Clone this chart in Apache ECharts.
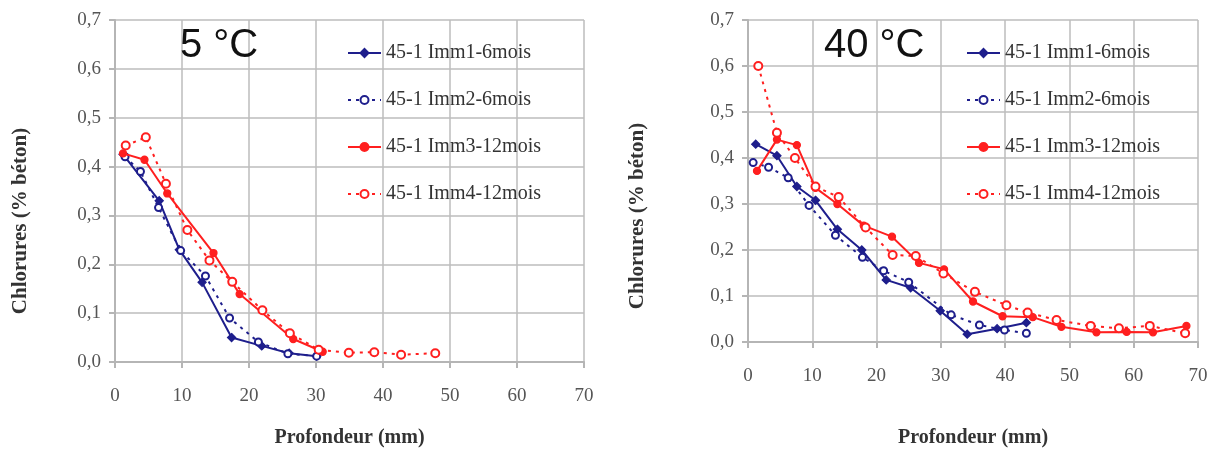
<!DOCTYPE html>
<html>
<head>
<meta charset="utf-8">
<script src="https://cdn.jsdelivr.net/npm/echarts@6/dist/echarts.min.js"></script>
<style>
html,body{margin:0;padding:0;background:#fff;}
#c{width:1212px;height:453px;}
</style>
</head>
<body>
<div id="c"></div>
<script>
// ---- Data ----
const seriesNames = ['45-1 Imm1-6mois', '45-1 Imm2-6mois', '45-1 Imm3-12mois', '45-1 Imm4-12mois'];
const titles = ['5 °C', '40 °C'];
const xTicks = [0, 10, 20, 30, 40, 50, 60, 70];
const yTicks = [0, 0.1, 0.2, 0.3, 0.4, 0.5, 0.6, 0.7];

// 5 °C
const c5_imm1_x = [1.2, 6.6, 9.6, 13.0, 17.4, 21.9, 26.0, 30.1];
const c5_imm1_y = [0.425, 0.33, 0.23, 0.163, 0.05, 0.033, 0.018, 0.012];
const c5_imm2_x = [1.5, 3.8, 6.5, 9.8, 13.5, 17.1, 21.4, 25.8, 30.1];
const c5_imm2_y = [0.42, 0.39, 0.316, 0.228, 0.176, 0.09, 0.041, 0.017, 0.012];
const c5_imm3_x = [1.2, 4.4, 7.8, 14.7, 18.6, 26.6, 31.0];
const c5_imm3_y = [0.427, 0.414, 0.345, 0.223, 0.139, 0.047, 0.021];
const c5_imm4_x = [1.6, 4.6, 7.6, 10.8, 14.1, 17.5, 22.0, 26.1, 30.4, 34.9, 38.7, 42.7, 47.8];
const c5_imm4_y = [0.443, 0.46, 0.365, 0.27, 0.208, 0.164, 0.106, 0.059, 0.025, 0.019, 0.02, 0.015, 0.018];

// 40 °C
const c40_imm1_x = [1.2, 4.5, 7.6, 10.5, 13.9, 17.7, 21.5, 25.3, 29.9, 34.1, 38.75, 43.3];
const c40_imm1_y = [0.43, 0.405, 0.338, 0.308, 0.245, 0.2, 0.135, 0.118, 0.068, 0.017, 0.029, 0.042];
const c40_imm2_x = [0.8, 3.2, 6.25, 9.5, 13.6, 17.8, 21.1, 25.0, 31.6, 36.0, 39.9, 43.3];
const c40_imm2_y = [0.39, 0.38, 0.357, 0.297, 0.232, 0.184, 0.155, 0.13, 0.059, 0.037, 0.026, 0.019];
const c40_imm3_x = [1.4, 4.5, 7.6, 10.5, 13.9, 18.0, 22.4, 26.6, 30.5, 35.0, 39.6, 44.3, 48.75, 54.2, 58.9, 63.0, 68.2];
const c40_imm3_y = [0.372, 0.44, 0.428, 0.335, 0.30, 0.253, 0.229, 0.172, 0.158, 0.088, 0.056, 0.054, 0.033, 0.021, 0.022, 0.021, 0.035];
const c40_imm4_x = [1.6, 4.5, 7.3, 10.5, 14.1, 18.3, 22.5, 26.1, 30.4, 35.3, 40.2, 43.5, 48.0, 53.3, 57.7, 62.5, 68.0];
const c40_imm4_y = [0.6, 0.455, 0.40, 0.338, 0.315, 0.249, 0.189, 0.187, 0.149, 0.109, 0.08, 0.064, 0.048, 0.035, 0.03, 0.035, 0.019];

// ---- Styling ----
const BLUE = '#1e1e8c';
const RED = '#ff1f1f';
const SERIF = '"Liberation Serif", "DejaVu Serif", serif';
const SANS = '"Liberation Sans", Arial, sans-serif';

function pairs(xs, ys) { return xs.map((x, i) => [x, ys[i]]); }

const styles = [
  { color: BLUE, type: 'solid', symbol: 'diamond', size: 8 },
  { color: BLUE, type: [3, 5], symbol: 'emptyCircle', size: 7 },
  { color: RED, type: 'solid', symbol: 'circle', size: 7 },
  { color: RED, type: [3, 5], symbol: 'emptyCircle', size: 8 }
];

const chartData = [
  [pairs(c5_imm1_x, c5_imm1_y), pairs(c5_imm2_x, c5_imm2_y), pairs(c5_imm3_x, c5_imm3_y), pairs(c5_imm4_x, c5_imm4_y)],
  [pairs(c40_imm1_x, c40_imm1_y), pairs(c40_imm2_x, c40_imm2_y), pairs(c40_imm3_x, c40_imm3_y), pairs(c40_imm4_x, c40_imm4_y)]
];

const grids = [
  { left: 115, top: 20, width: 469, height: 343 },
  { left: 748, top: 20, width: 450, height: 322 }
];
const yNameGap = [84, 100];
const yNameShift = [60, 70];
const xNameGap = [66, 86];

const series = [];
chartData.forEach((sets, g) => {
  sets.forEach((d, k) => {
    const s = styles[k];
    series.push({
      name: seriesNames[k],
      type: 'line',
      xAxisIndex: g,
      yAxisIndex: g,
      data: d,
      symbol: s.symbol,
      symbolSize: s.size,
      showAllSymbol: true,
      animation: false,
      itemStyle: { color: s.color, borderColor: s.color, borderWidth: 1.3 },
      lineStyle: { color: s.color, width: 2, type: s.type },
      z: 3 + k
    });
  });
});

const xAxes = grids.map((_, g) => ({
  type: 'value', gridIndex: g, min: 0, max: 70, interval: 10,
  name: 'Profondeur (mm)', nameLocation: 'middle', nameGap: xNameGap[g],
  nameTextStyle: { fontFamily: SERIF, fontWeight: 'bold', fontSize: 20, color: '#333' },
  axisLine: { show: true, lineStyle: { color: '#b5b5b5', width: 2 } },
  axisTick: { show: true, inside: false, length: 6, lineStyle: { color: '#b5b5b5', width: 2 } },
  axisLabel: { margin: 25, fontFamily: SERIF, fontSize: 19, color: '#555',
               formatter: v => String(v) },
  splitLine: { show: true, lineStyle: { color: '#bdbdbd', width: 1.5 } }
}));

const yAxes = grids.map((_, g) => ({
  type: 'value', gridIndex: g, min: 0, max: 0.7, interval: 0.1,
  name: 'Chlorures (% béton)', nameLocation: 'middle', nameGap: yNameGap[g], nameRotate: 90,
  nameTextStyle: { fontFamily: SERIF, fontWeight: 'bold', fontSize: 21, color: '#333',
                   padding: [0, yNameShift[g], 0, 0] },
  axisLine: { show: true, lineStyle: { color: '#b5b5b5', width: 2 } },
  axisTick: { show: true, inside: false, length: 6, lineStyle: { color: '#b5b5b5', width: 2 } },
  axisLabel: { margin: 14, fontFamily: SERIF, fontSize: 19, color: '#555',
               formatter: v => v.toFixed(1).replace('.', ',') },
  splitLine: { show: true, lineStyle: { color: '#bdbdbd', width: 1.5 } }
}));

const legendLefts = [347, 966];
const legends = legendLefts.map(l => ({
  orient: 'vertical', left: l, top: 43, padding: 0,
  data: seriesNames,
  itemWidth: 33, itemHeight: 10, itemGap: 27,
  selectedMode: false,
  textStyle: { fontFamily: SERIF, fontSize: 20, color: '#333', lineHeight: 20 }
}));

const titleLefts = [180, 824];
const titleOpts = titles.map((t, i) => ({
  text: t, left: titleLefts[i], top: 26, padding: 0,
  textStyle: { fontFamily: SANS, fontSize: 40, fontWeight: 'normal', color: '#111' }
}));

const chart = echarts.init(document.getElementById('c'), null, { renderer: 'canvas' });
chart.setOption({
  backgroundColor: '#fff',
  animation: false,
  title: titleOpts,
  legend: legends,
  grid: grids,
  xAxis: xAxes,
  yAxis: yAxes,
  series: series
});
</script>
</body>
</html>
